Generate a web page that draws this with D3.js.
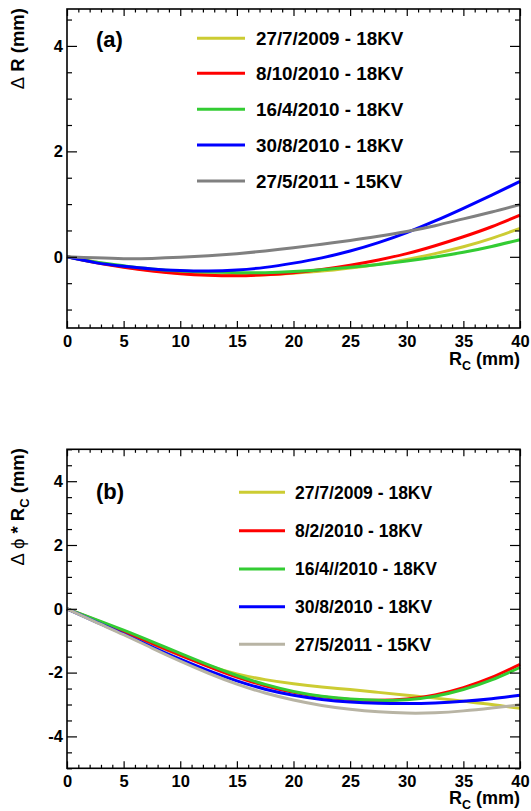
<!DOCTYPE html>
<html>
<head>
<meta charset="utf-8">
<script src="https://cdn.jsdelivr.net/npm/d3@7"></script>
<style>
  body { margin: 0; background: #fff; }
  svg { display: block; font-family: "Liberation Sans", Arial, Helvetica, sans-serif; font-weight: bold; }
</style>
</head>
<body>
<svg id="chart" width="531" height="811"></svg>
<script>
// ------------------------------------------------------------
// DATA
// ------------------------------------------------------------
const rc = [0, 2.5, 5, 7.5, 10, 12.5, 15, 17.5, 20, 22.5, 25, 27.5, 30, 32.5, 35, 37.5, 40];

// panel (a) : Delta R (mm)
const dR_2009_07 = [0, -0.10, -0.19, -0.26, -0.31, -0.34, -0.35, -0.34, -0.31, -0.27, -0.21, -0.14, -0.05, 0.06, 0.19, 0.35, 0.54];
const dR_2010_10 = [0, -0.11, -0.20, -0.27, -0.32, -0.35, -0.36, -0.34, -0.30, -0.24, -0.16, -0.06, 0.06, 0.21, 0.38, 0.57, 0.79];
const dR_2010_04 = [0, -0.10, -0.17, -0.23, -0.27, -0.29, -0.30, -0.30, -0.28, -0.245, -0.20, -0.145, -0.08, -0.005, 0.085, 0.195, 0.325];
const dR_2010_08 = [0, -0.11, -0.18, -0.23, -0.26, -0.27, -0.25, -0.20, -0.12, -0.02, 0.11, 0.27, 0.46, 0.68, 0.92, 1.17, 1.43];
const dR_2011_05 = [0, -0.02, -0.035, -0.03, -0.01, 0.02, 0.06, 0.11, 0.17, 0.24, 0.31, 0.39, 0.48, 0.59, 0.72, 0.85, 0.99];

// panel (b) : Delta phi * Rc (mm)
const dP_2009_07 = [0, -0.37, -0.73, -1.10, -1.46, -1.78, -2.04, -2.22, -2.35, -2.45, -2.53, -2.62, -2.71, -2.80, -2.90, -3.00, -3.12];
const dP_2010_02 = [0, -0.35, -0.71, -1.08, -1.45, -1.81, -2.14, -2.41, -2.62, -2.76, -2.84, -2.87, -2.83, -2.70, -2.47, -2.15, -1.74];
const dP_2010_04 = [0, -0.33, -0.67, -1.03, -1.40, -1.76, -2.09, -2.37, -2.59, -2.74, -2.83, -2.87, -2.85, -2.74, -2.53, -2.23, -1.84];
const dP_2010_08 = [0, -0.40, -0.79, -1.19, -1.58, -1.94, -2.26, -2.52, -2.71, -2.84, -2.92, -2.96, -2.97, -2.95, -2.90, -2.82, -2.71];
const dP_2011_05 = [0, -0.41, -0.81, -1.23, -1.64, -2.02, -2.36, -2.64, -2.86, -3.03, -3.15, -3.23, -3.27, -3.26, -3.20, -3.11, -3.01];

const labelsA = ["27/7/2009 - 18KV", "8/10/2010 - 18KV", "16/4/2010 - 18KV", "30/8/2010 - 18KV", "27/5/2011 - 15KV"];
const labelsB = ["27/7/2009 - 18KV", "8/2/2010 - 18KV", "16/4//2010 - 18KV", "30/8/2010 - 18KV", "27/5/2011 - 15KV"];

const xMajor = [0, 5, 10, 15, 20, 25, 30, 35, 40];
const yMajorA = [0, 2, 4];
const yMajorB = [-4, -2, 0, 2, 4];

const colorsA = ["#cccc33", "#ff0000", "#33cc33", "#0000ff", "#808080"];
const colorsB = ["#cccc33", "#ff0000", "#33cc33", "#0000ff", "#b8b4a4"];

// ------------------------------------------------------------
const svg = d3.select("#chart");
const plain = d => String(d);

function buildPanel(cfg) {
  const x = d3.scaleLinear().domain([0, 40]).range([67, 520]);
  const y = d3.scaleLinear().domain(cfg.yDomain).range([cfg.bottom, cfg.top]);
  const g = svg.append("g");

  const xMinor = d3.range(0, 41, 1).filter(v => v % 5 !== 0);
  const yMinor = d3.range(Math.ceil(cfg.yDomain[0] * 2) / 2, cfg.yDomain[1] + 0.001, 0.5)
    .filter(v => !cfg.yMajor.includes(v));

  // curves
  const line = d3.line().x((d, i) => x(rc[i])).y(d => y(d)).curve(d3.curveNatural);
  cfg.series.forEach((s, i) => {
    g.append("path").datum(s)
      .attr("d", line)
      .attr("fill", "none")
      .attr("stroke", cfg.colors[i])
      .attr("stroke-width", 3);
  });

  // axes, ticks pointing inward
  const axes = [
    [d3.axisBottom(x).tickValues(xMajor).tickSize(-7).tickPadding(7).tickFormat(plain), `translate(0,${cfg.bottom})`],
    [d3.axisBottom(x).tickValues(xMinor).tickSize(-3.5).tickFormat(""), `translate(0,${cfg.bottom})`],
    [d3.axisTop(x).tickValues(xMajor).tickSize(-7).tickFormat(""), `translate(0,${cfg.top})`],
    [d3.axisTop(x).tickValues(xMinor).tickSize(-3.5).tickFormat(""), `translate(0,${cfg.top})`],
    [d3.axisLeft(y).tickValues(cfg.yMajor).tickSize(-10).tickPadding(4).tickFormat(plain), "translate(67,0)"],
    [d3.axisLeft(y).tickValues(yMinor).tickSize(-5).tickFormat(""), "translate(67,0)"],
    [d3.axisRight(y).tickValues(cfg.yMajor).tickSize(-10).tickFormat(""), "translate(520,0)"],
    [d3.axisRight(y).tickValues(yMinor).tickSize(-5).tickFormat(""), "translate(520,0)"]
  ];
  axes.forEach(([ax, tr]) => {
    const a = g.append("g").attr("transform", tr).call(ax.tickSizeOuter(0));
    a.select(".domain").remove();
    a.selectAll("line").attr("stroke", "#000").attr("stroke-width", 1.2);
    a.selectAll("text")
      .attr("fill", "#000")
      .style("font-size", "16.5px")
      .style("font-weight", "bold")
      .style("font-family", "Liberation Sans, Arial, sans-serif");
  });

  // frame
  g.append("rect")
    .attr("x", 67).attr("y", cfg.top)
    .attr("width", 520 - 67).attr("height", cfg.bottom - cfg.top)
    .attr("fill", "none").attr("stroke", "#000").attr("stroke-width", 1.6);

  // legend
  cfg.labels.forEach((lab, i) => {
    const ly = cfg.legY[i];
    g.append("line")
      .attr("x1", cfg.legX1).attr("x2", cfg.legX2)
      .attr("y1", ly).attr("y2", ly)
      .attr("stroke", cfg.colors[i]).attr("stroke-width", 3);
    g.append("text")
      .attr("x", cfg.legText).attr("y", ly + cfg.legFont * 0.36)
      .style("font-size", cfg.legFont + "px")
      .text(lab);
  });

  // panel tag
  g.append("text").attr("x", 96).attr("y", cfg.tagY)
    .style("font-size", "22px").text(cfg.tag);

  // x title
  const xt = g.append("text").attr("x", 520).attr("y", cfg.xTitleY)
    .attr("text-anchor", "end").style("font-size", "18px");
  xt.append("tspan").text("R");
  xt.append("tspan").attr("dy", 5).style("font-size", "12.5px").text("C");
  xt.append("tspan").attr("dy", -5).text(" (mm)");

  // y title
  const yt = g.append("text")
    .attr("transform", `translate(24,${cfg.yTitleTop}) rotate(-90)`)
    .attr("text-anchor", "end").style("font-size", "18.5px");
  cfg.yTitle(yt);

  return g;
}

buildPanel({
  top: 9, bottom: 328, yDomain: [-1.35, 4.7], yMajor: yMajorA,
  series: [dR_2009_07, dR_2010_10, dR_2010_04, dR_2010_08, dR_2011_05],
  colors: colorsA, labels: labelsA,
  legY: [38.3, 73.3, 109.3, 145, 181], legX1: 197, legX2: 245, legText: 256, legFont: 18.8,
  tag: "(a)", tagY: 47, xTitleY: 365, yTitleTop: 8,
  yTitle: t => {
    t.append("tspan").style("font-weight", "normal").text("\u0394");
    t.append("tspan").text(" R (mm)");
  }
});

buildPanel({
  top: 449.3, bottom: 768.3, yDomain: [-5, 5], yMajor: yMajorB,
  series: [dP_2009_07, dP_2010_02, dP_2010_04, dP_2010_08, dP_2011_05],
  colors: colorsB, labels: labelsB,
  legY: [492.3, 530.7, 569, 606.7, 644.3], legX1: 239, legX2: 285, legText: 295, legFont: 17.5,
  tag: "(b)", tagY: 499, xTitleY: 804, yTitleTop: 448,
  yTitle: t => {
    t.append("tspan").style("font-weight", "normal").text("\u0394 \u03d5");
    t.append("tspan").text(" * R");
    t.append("tspan").attr("dy", 5).style("font-size", "13px").text("C");
    t.append("tspan").attr("dy", -5).text(" (mm)");
  }
});
</script>
</body>
</html>
